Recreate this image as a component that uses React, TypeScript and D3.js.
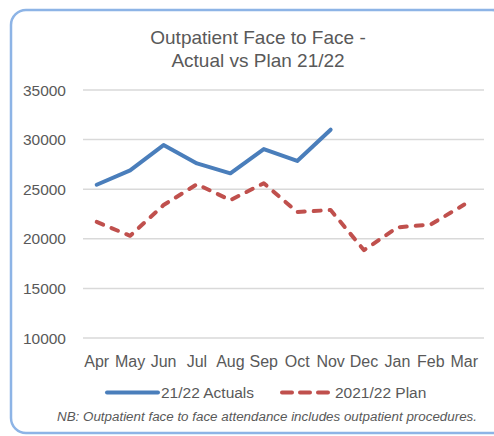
import React from 'react';
import * as d3 from 'd3';

// Chart data
const months = ['Apr', 'May', 'Jun', 'Jul', 'Aug', 'Sep', 'Oct', 'Nov', 'Dec', 'Jan', 'Feb', 'Mar'];
const actuals = [25450, 26900, 29450, 27600, 26600, 29050, 27850, 31000];
const plan = [21700, 20300, 23400, 25500, 23900, 25600, 22700, 22900, 18850, 21150, 21450, 23450];
const yTicks = [10000, 15000, 20000, 25000, 30000, 35000];
const titleLines = ['Outpatient Face to Face -', 'Actual vs Plan 21/22'];

const W = 494;
const H = 436;
const FONT = '"Liberation Sans", Arial, sans-serif';
const TEXT = '#595959';

export default function App() {
  // scales
  const x = d3.scaleBand<string>().domain(months).range([80, 481]);
  const y = d3.scaleLinear().domain([10000, 35000]).range([338, 90]);
  const cx = (m: string) => (x(m) as number) + x.bandwidth() / 2;

  const line = d3.line<number>()
    .x((_, i) => cx(months[i]))
    .y((d) => y(d));

  return (
    <div style={{ position: 'absolute', left: 0, top: 0 }}>
      <svg width={W} height={H} style={{ display: 'block', background: '#fff' }}>
        {/* chart border */}
        <rect x={11} y={10} width={496} height={423} rx={15} ry={15}
          fill="#fff" stroke="#8db4e6" strokeWidth={2.5} />

        {/* title */}
        {titleLines.map((t, i) => (
          <text key={t} x={258} y={43.5 + i * 23.5} textAnchor="middle"
            fontFamily={FONT} fontSize={19} fill={TEXT}>{t}</text>
        ))}

        {/* gridlines + y tick labels */}
        {yTicks.map((t) => (
          <g key={t}>
            <line x1={83} x2={484} y1={y(t)} y2={y(t)} stroke="#d9d9d9" strokeWidth={1.5} />
            <text x={66} y={y(t) + 5.5} textAnchor="end" fontFamily={FONT}
              fontSize={15.5} fill={TEXT}>{t}</text>
          </g>
        ))}

        {/* month labels */}
        {months.map((m) => (
          <text key={m} x={cx(m)} y={367} textAnchor="middle" fontFamily={FONT}
            fontSize={16} fill={TEXT}>{m}</text>
        ))}

        {/* series */}
        <path d={line(plan) || ''} fill="none" stroke="#c0504d" strokeWidth={4}
          strokeDasharray="7,9" strokeLinecap="round" strokeLinejoin="round" />
        <path d={line(actuals) || ''} fill="none" stroke="#4a7ebb" strokeWidth={4}
          strokeLinecap="round" strokeLinejoin="round" />

        {/* legend */}
        <line x1={107} x2={158} y1={392.5} y2={392.5} stroke="#4a7ebb" strokeWidth={4} strokeLinecap="round" />
        <text x={161} y={398} fontFamily={FONT} fontSize={15.5} fill={TEXT}>21/22 Actuals</text>
        <line x1={282} x2={330} y1={392.5} y2={392.5} stroke="#c0504d" strokeWidth={4}
          strokeDasharray="10,8" strokeLinecap="round" />
        <text x={335} y={398} fontFamily={FONT} fontSize={15.5} fill={TEXT}>2021/22 Plan</text>

        {/* footnote */}
        <text x={57} y={421} fontFamily={FONT} fontSize={12.5} fontStyle="italic" fill={TEXT}
          textLength={420} lengthAdjust="spacingAndGlyphs">
          NB: Outpatient face to face attendance includes outpatient procedures.
        </text>
      </svg>
    </div>
  );
}
